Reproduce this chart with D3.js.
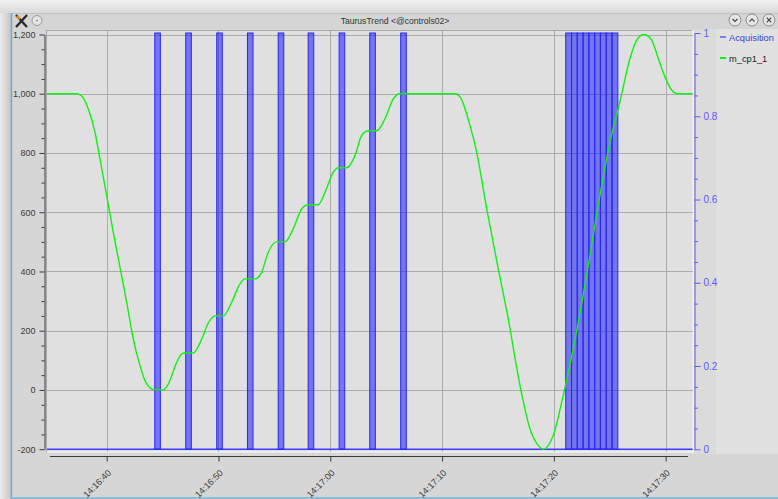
<!DOCTYPE html>
<html><head><meta charset="utf-8">
<script src="https://cdn.jsdelivr.net/npm/d3@7"></script>
<style>html,body{margin:0;padding:0;overflow:hidden;background:#e6e6e6}
text{font-family:"Liberation Sans",Arial,sans-serif}</style>
</head><body><svg id="c" width="778" height="499"></svg>
<script>
// ---- data ----
const windowTitle = "TaurusTrend <@controls02>";
const seriesNames = ["Acquisition", "m_cp1_1"];
// m_cp1_1 : seconds after 14:16:00 and value
const posTime = [34.66,37.32,37.76,38.35,38.95,39.40,40.00,40.59,41.19,41.79,42.38,42.98,43.43,43.85,44.17,45.06,45.51,46.26,46.71,47.00,47.75,48.50,49.09,49.69,50.43,51.18,51.92,52.37,53.26,53.86,54.45,55.21,55.95,56.69,57.44,58.03,58.93,59.53,60.27,60.72,61.47,62.21,62.81,63.40,64.15,64.89,65.64,66.23,71.15,71.60,72.49,73.09,73.99,75.03,75.92,76.97,77.86,78.60,79.05,79.95,80.84,81.74,82.93,84.12,85.02,85.91,86.81,87.41,88.06,88.75,89.34,89.94,90.54,90.98,92.40];
const posValue = [1000,1000,992,949,870,780,656,532,414,296,172,82,31,8,1,0,20,93,122,125,125,172,226,250,250,296,358,375,375,397,465,500,500,544,611,625,625,667,735,750,750,791,859,875,875,915,983,1000,1000,990,894,804,612,409,240,15,-131,-187,-200,-153,-18,140,387,657,838,973,1119,1181,1200,1181,1119,1057,1012,1000,1000];
// Acquisition pulses (value 1) : start / end seconds after 14:16:00
const acqStart = [44.30,47.07,49.84,52.59,55.34,58.02,60.79,63.53,66.30,81.06,81.58,82.09,82.61,83.13,83.65,84.16,84.68,85.20];
const acqEnd   = [44.80,47.57,50.34,53.09,55.84,58.52,61.29,64.03,66.80,81.58,82.09,82.61,83.13,83.65,84.16,84.68,85.20,85.72];
const acqBase = 0, acqHigh = 1;
const leftTicks = [-200,0,200,400,600,800,1000,1200];
const leftTickLabels = ["-200","0","200","400","600","800","1,000","1,200"];
const leftMinorTicks = [-150,-100,-50,50,100,150,250,300,350,450,500,550,650,700,750,850,900,950,1050,1100,1150];
const rightTicks = [0,0.2,0.4,0.6,0.8,1];
const rightTickLabels = ["0","0.2","0.4","0.6","0.8","1"];
const rightMinorTicks = [0.05,0.1,0.15,0.25,0.3,0.35,0.45,0.5,0.55,0.65,0.7,0.75,0.85,0.9,0.95];
const timeTicks = [40,50,60,70,80,90];
const timeTickLabels = ["14:16:40","14:16:50","14:17:00","14:17:10","14:17:20","14:17:30"];
const timeDomain = [34.66, 92.40];

// ---- drawing ----
const base = new Date(2000,0,1,14,16,0).getTime();
const toDate = s => new Date(base + s*1000);
const svg = d3.select("#c");
const F = 9;

// outer background
const defs = svg.append("defs");
const g1 = defs.append("linearGradient").attr("id","topg").attr("x1",0).attr("y1",0).attr("x2",0).attr("y2",1);
g1.append("stop").attr("offset",0).attr("stop-color","#f2f2f2");
g1.append("stop").attr("offset",1).attr("stop-color","#d9d9d9");
const g2 = defs.append("linearGradient").attr("id","leftg").attr("x1",0).attr("y1",0).attr("x2",1).attr("y2",0);
g2.append("stop").attr("offset",0).attr("stop-color","#ececec");
g2.append("stop").attr("offset",1).attr("stop-color","#c4c4c4");
svg.append("rect").attr("width",778).attr("height",499).attr("fill","#ebebeb");
svg.append("rect").attr("x",0).attr("y",0).attr("width",778).attr("height",13).attr("fill","url(#topg)");
svg.append("rect").attr("x",0).attr("y",13).attr("width",11).attr("height",486).attr("fill","url(#leftg)");
// window
svg.append("rect").attr("x",11).attr("y",13).attr("width",767).attr("height",486).attr("fill","#d6d6d6");
svg.append("rect").attr("x",11).attr("y",13).attr("width",767).attr("height",16).attr("fill","#d5d5d5");
svg.append("line").attr("x1",11).attr("x2",778).attr("y1",13.5).attr("y2",13.5).attr("stroke","#c2c2c2");
svg.append("line").attr("x1",11.5).attr("x2",11.5).attr("y1",13).attr("y2",499).attr("stroke","#7fa6c0").attr("stroke-width",1.5);
svg.append("line").attr("x1",11).attr("x2",778).attr("y1",498).attr("y2",498).attr("stroke","#86c0d8").attr("stroke-width",2);

// legend panel and right-axis strip
svg.append("rect").attr("x",716).attr("y",29).attr("width",62).attr("height",425).attr("fill","#e1e1e1");
svg.append("rect").attr("x",693).attr("y",29).attr("width",23).attr("height",425).attr("fill","#dbdbdb");

// canvas
const cx0 = 47, cx1 = 692.5, cy0 = 30, cy1 = 451.5;
svg.append("rect").attr("x",cx0).attr("y",cy0).attr("width",cx1-cx0).attr("height",cy1-cy0).attr("fill","#e0e0e0");
svg.append("line").attr("x1",cx0-0.5).attr("x2",cx0-0.5).attr("y1",cy0).attr("y2",cy1+1).attr("stroke","#a9a9a9");
svg.append("line").attr("x1",cx0).attr("x2",cx1).attr("y1",cy0+0.5).attr("y2",cy0+0.5).attr("stroke","#a9a9a9");
svg.append("line").attr("x1",cx1+0.5).attr("x2",cx1+0.5).attr("y1",cy0).attr("y2",cy1+1).attr("stroke","#ffffff");
svg.append("line").attr("x1",cx0).attr("x2",cx1+1).attr("y1",cy1+0.5).attr("y2",cy1+0.5).attr("stroke","#ffffff");

const x = d3.scaleTime().domain(timeDomain.map(toDate)).range([cx0, cx1]);
const yL = d3.scaleLinear().domain([-200,1200]).range([449.2,34.5]);
const yR = d3.scaleLinear().domain([0,1]).range([449.3,33]);

// grid
const grid = svg.append("g").attr("stroke","#acacac").attr("stroke-width",1).attr("shape-rendering","crispEdges");
grid.selectAll(".h").data(leftTicks).join("line").attr("x1",cx0).attr("x2",cx1).attr("y1",d=>Math.round(yL(d))+0.5).attr("y2",d=>Math.round(yL(d))+0.5);
grid.selectAll(".v").data(timeTicks).join("line").attr("y1",cy0+1).attr("y2",cy1).attr("x1",d=>Math.round(x(toDate(d)))+0.5).attr("x2",d=>Math.round(x(toDate(d)))+0.5);

// acquisition
svg.append("line").attr("x1",cx0).attr("x2",cx1).attr("y1",yR(acqBase)).attr("y2",yR(acqBase)).attr("stroke","#3c3cff").attr("stroke-width",1.6);
svg.append("g").selectAll("rect").data(acqStart).join("rect")
  .attr("x",d=>x(toDate(d))).attr("width",(d,i)=>x(toDate(acqEnd[i]))-x(toDate(d)))
  .attr("y",yR(acqHigh)).attr("height",yR(acqBase)-yR(acqHigh))
  .attr("fill","rgba(20,20,255,0.52)").attr("stroke","#2626ff").attr("stroke-width",1);

// m_cp1_1
const line = d3.line().x((d,i)=>x(toDate(posTime[i]))).y(d=>yL(d)).curve(d3.curveMonotoneX);
svg.append("path").attr("d",line(posValue)).attr("fill","none").attr("stroke","#10f010").attr("stroke-width",1.4);

// left axis
const ink = "#3a3a3a";
const la = svg.append("g").attr("transform","translate(44.5,0)")
  .call(d3.axisLeft(yL).tickValues(leftTicks).tickSize(5).tickSizeOuter(0).tickPadding(4).tickFormat((d,i)=>leftTickLabels[i]));
const lm = svg.append("g").attr("transform","translate(44.5,0)")
  .call(d3.axisLeft(yL).tickValues(leftMinorTicks).tickSize(3).tickSizeOuter(0).tickFormat(""));
lm.select(".domain").remove();
[la,lm].forEach(g=>g.selectAll("path,line").attr("stroke",ink));
la.selectAll("text").attr("fill",ink).attr("font-size",F).attr("font-family","Liberation Sans");

// right axis
const blue = "#5a5aff";
const ra = svg.append("g").attr("transform","translate(694.5,0)")
  .call(d3.axisRight(yR).tickValues(rightTicks).tickSize(6).tickSizeOuter(0).tickPadding(3).tickFormat((d,i)=>rightTickLabels[i]));
const rm = svg.append("g").attr("transform","translate(694.5,0)")
  .call(d3.axisRight(yR).tickValues(rightMinorTicks).tickSize(3.5).tickSizeOuter(0).tickFormat(""));
rm.select(".domain").remove();
[ra,rm].forEach(g=>g.selectAll("path,line").attr("stroke",blue));
ra.selectAll("text").attr("fill",blue).attr("font-size",F+1).attr("font-family","Liberation Sans");

// bottom axis
svg.append("line").attr("x1",50).attr("x2",688).attr("y1",456.5).attr("y2",456.5).attr("stroke",ink);
const ba = svg.append("g").attr("transform","translate(0,456.5)")
  .call(d3.axisBottom(x).tickValues(timeTicks.map(toDate)).tickSize(5).tickSizeOuter(0).tickFormat((d,i)=>timeTickLabels[i]));
ba.select(".domain").remove();
ba.selectAll("line").attr("stroke",ink);
ba.selectAll("text").attr("fill",ink).attr("font-size",F).attr("font-family","Liberation Sans")
  .attr("text-anchor","end").attr("dy",0).attr("y",0)
  .attr("transform","translate(4.5,17) rotate(-45)");

// legend
const lg = svg.append("g");
lg.append("line").attr("x1",720).attr("x2",726).attr("y1",37).attr("y2",37).attr("stroke","#3c3cff").attr("stroke-width",1.2);
lg.append("text").attr("x",729).attr("y",40.5).attr("font-size",F+0.3).attr("fill","#3c3cc8").text(seriesNames[0]);
lg.append("line").attr("x1",720).attr("x2",726).attr("y1",58).attr("y2",58).attr("stroke","#10f010").attr("stroke-width",2);
lg.append("text").attr("x",729).attr("y",61.5).attr("font-size",F+0.3).attr("fill","#222").text(seriesNames[1]);

// title bar
svg.append("text").attr("x",395).attr("y",24).attr("text-anchor","middle").attr("font-size",8.6).attr("fill","#333").text(windowTitle);
const tb = svg.append("g");
tb.append("path").attr("d","M16,15 L27,27 M27,15 L16,27").attr("stroke","#2a2a2a").attr("stroke-width",2.4);
tb.append("path").attr("d","M17,16 L20,19").attr("stroke","#e8901c").attr("stroke-width",2.4);
tb.append("circle").attr("cx",37).attr("cy",20.5).attr("r",5).attr("fill","#e4e4e4").attr("stroke","#999");
tb.append("circle").attr("cx",37).attr("cy",20.5).attr("r",0.8).attr("fill","#666");
[735,752,769].forEach((cx,i)=>{
  tb.append("circle").attr("cx",cx).attr("cy",20).attr("r",6).attr("fill","#e6e6e6").attr("stroke","#8c8c8c");
  const d = i===0 ? `M${cx-2.5},${19} L${cx},${21.5} L${cx+2.5},${19}` :
            i===1 ? `M${cx-2.5},${21.5} L${cx},${19} L${cx+2.5},${21.5}` :
                    `M${cx-2.3},${17.7} L${cx+2.3},${22.3} M${cx+2.3},${17.7} L${cx-2.3},${22.3}`;
  tb.append("path").attr("d",d).attr("fill","none").attr("stroke","#444").attr("stroke-width",1.2);
});
</script></body></html>
